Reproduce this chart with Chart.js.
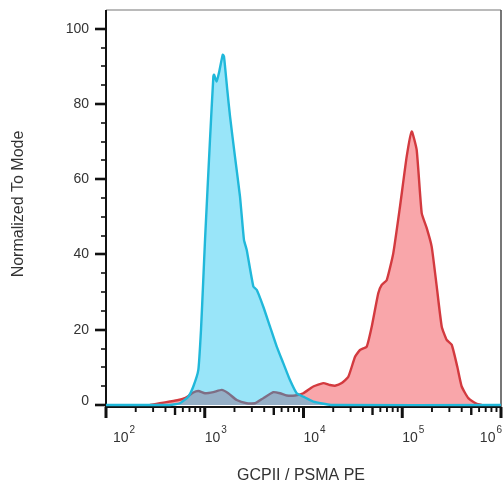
<!DOCTYPE html>
<html>
<head>
<meta charset="utf-8">
<script src="https://cdn.jsdelivr.net/npm/chart.js@4.4.1/dist/chart.umd.min.js"></script>
<style>
  html, body { margin: 0; padding: 0; background: #fff; }
  #wrap { width: 503px; height: 489px; }
</style>
</head>
<body>
<div id="wrap"><canvas id="histChart" width="503" height="489"></canvas></div>
<script>
// PE intensity (x) and normalized-to-mode count (y)
const controlX = [100, 445, 561, 681, 766, 861, 916, 966, 1007, 1130, 1222, 1242, 1321, 1393, 1521, 1567,
  1690, 1803, 2023, 2275, 2495, 2661, 3105, 3357, 3917, 4581, 5358, 6237, 7295, 8531, 9954, 12560, 18970, 1000000];
const controlY = [0, 0, 0.45, 2.2, 4.9, 9.3, 19.9, 33.2, 44, 70.5, 87.3, 87.8, 86, 88.3, 93.1, 92.6,
  83.8, 76.7, 66, 55.4, 43.9, 41.2, 31.5, 30.6, 26.1, 20.8, 15.5, 11.1, 6.6, 3.1, 2.2, 0.9, 0, 0];

const stainedX = [279, 352, 445, 540, 631, 766, 861, 1007, 1222, 1486, 1730, 2109, 2661, 3228, 3917, 4943,
  5781, 6761, 8204, 9954, 12560, 15850, 18540, 20840, 24380, 28440, 33270, 37330, 43650, 49090, 57150,
  61940, 69660, 81100, 94840, 110900, 124700, 140000, 157400, 177000, 198600, 223400, 251200, 281800,
  317000, 360600, 399900, 466700, 567500, 638300];
const stainedY = [0, 0.45, 0.9, 1.3, 1.8, 3.3, 3.7, 3.1, 3.4, 4.0, 3.1, 1.3, 0.45, 0.45, 1.8, 3.4,
  3.1, 2.5, 2.5, 3.1, 4.9, 5.8, 5.3, 5.1, 5.8, 7.5, 12.8, 14.6, 15.5, 20.8, 29.7,
  31.9, 33.2, 40.3, 52.7, 66.0, 72.7, 67.8, 51.0, 47.0, 42.1, 31.5, 20.8, 17.3,
  16.0, 10.2, 4.9, 1.8, 0.3, 0];

const yTickValues = [0, 20, 40, 60, 80, 100];
const xDecades = [2, 3, 4, 5, 6];

const toPoints = (xs, ys) => xs.map((v, i) => ({ x: v, y: ys[i] }));

// axis frame, ticks and labels drawn FlowJo-style
const flowAxes = {
  id: 'flowAxes',
  beforeDatasetsDraw(chart) {
    const ctx = chart.ctx;
    const a = chart.chartArea;
    ctx.save();
    ctx.lineWidth = 1.5;
    ctx.strokeStyle = '#a3a3a3';
    ctx.beginPath(); ctx.moveTo(a.left, a.top); ctx.lineTo(a.right, a.top); ctx.stroke();
    ctx.strokeStyle = '#4a4a4a';
    ctx.beginPath(); ctx.moveTo(a.right, a.top); ctx.lineTo(a.right, a.bottom); ctx.stroke();
    ctx.lineWidth = 2;
    ctx.strokeStyle = '#111';
    ctx.beginPath(); ctx.moveTo(a.left, a.top); ctx.lineTo(a.left, a.bottom); ctx.lineTo(a.right, a.bottom); ctx.stroke();
    ctx.restore();
  },
  afterDraw(chart) {
    const ctx = chart.ctx;
    const a = chart.chartArea;
    const xs = chart.scales.x, ys = chart.scales.y;
    ctx.save();
    ctx.strokeStyle = '#111';

    // y ticks every 5, long ones on labelled values
    for (let v = 0; v <= 100; v += 5) {
      const py = Math.round(ys.getPixelForValue(v));
      const major = yTickValues.includes(v);
      ctx.lineWidth = major ? 2.6 : 1.6;
      ctx.beginPath();
      ctx.moveTo(a.left - (major ? 11 : 5), py);
      ctx.lineTo(a.left, py);
      ctx.stroke();
    }

    // x ticks, log decades with 2..9 minors
    xDecades.forEach((d, i) => {
      const base = Math.pow(10, d);
      let px = xs.getPixelForValue(base);
      ctx.lineWidth = 3;
      ctx.beginPath(); ctx.moveTo(px, a.bottom); ctx.lineTo(px, a.bottom + 11); ctx.stroke();
      if (i === xDecades.length - 1) return;
      for (let m = 2; m <= 9; m++) {
        px = xs.getPixelForValue(base * m);
        ctx.lineWidth = m === 5 ? 2.4 : 1.9;
        ctx.beginPath(); ctx.moveTo(px, a.bottom); ctx.lineTo(px, a.bottom + (m === 5 ? 8 : 5)); ctx.stroke();
      }
    });

    ctx.fillStyle = '#333';
    // y labels
    ctx.font = '14px "Liberation Sans", Arial, sans-serif';
    ctx.textAlign = 'right';
    ctx.textBaseline = 'middle';
    yTickValues.forEach(v => {
      const py = ys.getPixelForValue(v) - (v === 0 ? 4 : 0);
      ctx.fillText(String(v), a.left - 17, py);
    });

    // x labels: 10 with superscript exponent
    xDecades.forEach((d, i) => {
      const px = xs.getPixelForValue(Math.pow(10, d));
      ctx.font = '14px "Liberation Sans", Arial, sans-serif';
      const wBase = ctx.measureText('10').width;
      ctx.font = '10px "Liberation Sans", Arial, sans-serif';
      const wExp = ctx.measureText(String(d)).width;
      let left = px;
      if (i === 0) left = px + 7;
      else if (i === xDecades.length - 1) left = px + 1 - wBase - wExp - 1;
      ctx.textAlign = 'left';
      ctx.textBaseline = 'alphabetic';
      ctx.font = '14px "Liberation Sans", Arial, sans-serif';
      ctx.fillText('10', left, a.bottom + 35);
      ctx.font = '10px "Liberation Sans", Arial, sans-serif';
      ctx.fillText(String(d), left + wBase + 1, a.bottom + 26);
    });

    // axis titles
    ctx.font = '16px "Liberation Sans", Arial, sans-serif';
    ctx.textAlign = 'center';
    ctx.textBaseline = 'middle';
    ctx.fillText('GCPII / PSMA PE', 301, 476);
    ctx.translate(19, 204);
    ctx.rotate(-Math.PI / 2);
    ctx.fillText('Normalized To Mode', 0, 0);
    ctx.restore();
  }
};

const ctx = document.getElementById('histChart').getContext('2d');
new Chart(ctx, {
  type: 'line',
  data: {
    datasets: [
      {
        label: 'Control',
        data: toPoints(controlX, controlY),
        borderColor: '#20b8da',
        backgroundColor: 'rgba(0, 190, 240, 0.4)',
        borderWidth: 2.4,
        fill: 'origin',
        pointRadius: 0,
        tension: 0.15
      },
      {
        label: 'GCPII / PSMA',
        data: toPoints(stainedX, stainedY),
        borderColor: '#d33a3f',
        backgroundColor: '#f9a6aa',
        borderWidth: 2.4,
        fill: 'origin',
        pointRadius: 0,
        tension: 0.15
      }
    ]
  },
  options: {
    responsive: false,
    animation: false,
    layout: {
      padding: { left: 106, right: 2, top: 10, bottom: 82 }
    },
    scales: {
      x: {
        type: 'logarithmic',
        min: 100,
        max: 1000000,
        display: false
      },
      y: {
        type: 'linear',
        min: -0.55,
        max: 105,
        display: false
      }
    },
    plugins: {
      legend: { display: false },
      tooltip: { enabled: false }
    }
  },
  plugins: [flowAxes]
});
</script>
</body>
</html>
